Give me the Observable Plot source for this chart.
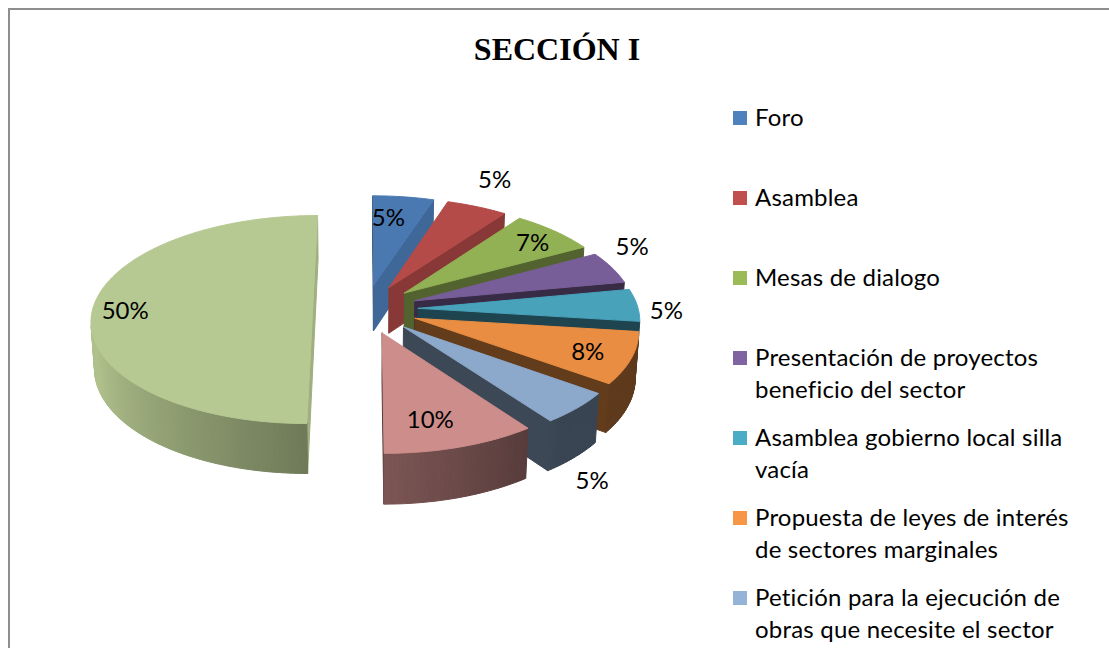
<!DOCTYPE html>
<html><head><meta charset="utf-8">
<script src="https://cdn.jsdelivr.net/npm/d3@7"></script>
<script src="https://cdn.jsdelivr.net/npm/@observablehq/plot@0.6"></script>
<style>
html,body{margin:0;padding:0;background:#fff;width:1109px;height:648px;overflow:hidden;}
#frame{position:absolute;left:8px;top:8px;width:1200px;height:700px;border-top:2px solid #8e8e8e;border-left:2px solid #8e8e8e;}
#chart{position:absolute;left:0;top:0;}
#title{position:absolute;left:0;width:1114px;top:33px;text-align:center;font:bold 32px "Liberation Serif","Times New Roman",serif;line-height:32px;color:#000;}
.lg-sw{position:absolute;width:14px;height:14px;}
.lg-tx{position:absolute;width:328px;font:24px Lato,sans-serif;letter-spacing:0.2px;line-height:32px;color:#000;}
</style></head><body>
<div id="frame"></div><div id="chart"></div><div id="title"></div><div id="legend"></div>
<script>
// ---- data ----
const title = "SECCIÓN I";
const categories = [
  "Foro",
  "Asamblea",
  "Mesas de dialogo",
  "Presentación de proyectos beneficio del sector",
  "Asamblea gobierno local silla vacía",
  "Propuesta de leyes de interés de sectores marginales",
  "Petición para la ejecución de obras que necesite el sector",
  "Otros",
  "Ninguna"
];
const values = [5, 5, 7, 5, 5, 8, 5, 10, 50];
const colors = ["#4F81BD","#C0504D","#9BBB59","#8064A2","#4BACC6","#F79646","#95B3D7","#D99694","#C3D69B"];

// ---- layout / style ----
const W = 1109, H = 648;
const view = {elevation: 27.9, distance: 8.8, explode: 0.24, thickness: 0.242, scale: 220, cx: 365, cy: 308.6};
const labelPlace = [[0.73,-3],[1.34,-2.2],[0.82,1.8],[1.2,-7.8],[1.125,3.4],[0.81,1.3],[1.45,15.6],[0.77,3.6],[0.85,-1.5]];
const legendLayout = {left: 733, top: 118, step: 80, textLeft: 755};

document.getElementById("title").textContent = title;

const el = view.elevation * Math.PI / 180, s = Math.sin(el), c = Math.cos(el);
const D = view.distance, h = view.thickness;
function proj(X, Y, Z) {
  const depth = D + Y * c - Z * s;
  return {u: X * D / depth, v: (Y * s + Z * c) * D / depth};
}
const cam = {x: 0, y: -D * c};
const arcs = d3.pie().sort(null).value(d => d)(values);
const slices = arcs.map((p, i) => {
  const mid = (p.startAngle + p.endAngle) / 2;
  return {i, a0: p.startAngle, a1: p.endAngle, mid,
    ox: view.explode * Math.sin(mid), oy: view.explode * Math.cos(mid)};
});
const order = slices.slice().sort((A, B) =>
  (B.oy + 0.6 * Math.cos(B.mid)) - (A.oy + 0.6 * Math.cos(A.mid)));

const pts = []; let fid = 0;
function addPoly(poly, color) {
  const id = fid++;
  poly.forEach(q => pts.push({u: q.u, v: q.v, face: id, color}));
  pts.push({u: poly[0].u, v: poly[0].v, face: id, color});
}
const shade = (col, b) => { const r = d3.rgb(col); return d3.rgb(r.r * b, r.g * b, r.b * b).formatHex(); };
const visible = (px, py, nx, ny) => (cam.x - px) * nx + (cam.y - py) * ny > 0;
const deg = r => ((r * 180 / Math.PI) % 360 + 360) % 360;
const outerB = t => t < 140 ? 0.38 : 0.38 + 0.52 * Math.min(1, (t - 140) / 110);
const radialB = phi => 0.4 + 0.42 * Math.pow(Math.max(0, Math.cos((phi - 95) * Math.PI / 180)), 2);

for (const S of order) {
  const base = colors[S.i];
  for (const [ang, sign] of [[S.a0, -1], [S.a1, 1]]) {
    const nx = sign > 0 ? Math.cos(ang) : -Math.cos(ang);
    const ny = sign > 0 ? -Math.sin(ang) : Math.sin(ang);
    const rx = S.ox + Math.sin(ang), ry = S.oy + Math.cos(ang);
    if (visible(S.ox, S.oy, nx, ny)) {
      const phi = deg(Math.atan2(nx, ny));
      addPoly([proj(S.ox, S.oy, 0), proj(rx, ry, 0), proj(rx, ry, -h), proj(S.ox, S.oy, -h)], shade(base, radialB(phi)));
    }
  }
  const n = Math.max(2, Math.ceil((S.a1 - S.a0) / (Math.PI / 180)));
  const P = (t, z) => proj(S.ox + Math.sin(t), S.oy + Math.cos(t), z);
  for (let j = 0; j < n; j++) {
    const t0 = S.a0 + (S.a1 - S.a0) * j / n, t1 = S.a0 + (S.a1 - S.a0) * (j + 1) / n, tm = (t0 + t1) / 2;
    if (!visible(S.ox + Math.sin(tm), S.oy + Math.cos(tm), Math.sin(tm), Math.cos(tm))) continue;
    addPoly([P(t0, 0), P(t1, 0), P(t1, -h), P(t0, -h)], shade(base, outerB(deg(tm))));
  }
  const top = [proj(S.ox, S.oy, 0)];
  for (let j = 0; j <= n; j++) top.push(P(S.a0 + (S.a1 - S.a0) * j / n, 0));
  addPoly(top, shade(base, 0.94));
}

const labelData = slices.map(S => {
  const [r, dd] = labelPlace[S.i];
  const t = S.mid + dd * Math.PI / 180;
  const q = proj(S.ox + r * Math.sin(t), S.oy + r * Math.cos(t), 0);
  return {u: q.u, v: q.v, label: values[S.i] + "%"};
});

const k = view.scale;
const chart = Plot.plot({
  width: W, height: H, margin: 0,
  x: {domain: [-view.cx / k, (W - view.cx) / k], range: [0, W], axis: null},
  y: {domain: [(view.cy - H) / k, view.cy / k], range: [H, 0], axis: null},
  color: {type: "identity"},
  style: {background: "transparent", overflow: "visible"},
  marks: [
    Plot.line(pts, {x: "u", y: "v", z: "face", fill: "color", stroke: "color", strokeWidth: 1, strokeLinejoin: "round"}),
    Plot.text(labelData, {x: "u", y: "v", text: "label", fontSize: 24, fontFamily: "Lato, sans-serif", fill: "#000"})
  ]
});
document.getElementById("chart").append(chart);

const leg = document.getElementById("legend");
categories.forEach((name, i) => {
  const cy = legendLayout.top + legendLayout.step * i;
  const sw = document.createElement("div");
  sw.className = "lg-sw";
  sw.style.left = legendLayout.left + "px";
  sw.style.top = (cy - 7) + "px";
  sw.style.background = colors[i];
  const tx = document.createElement("div");
  tx.className = "lg-tx";
  tx.style.left = legendLayout.textLeft + "px";
  tx.style.top = (cy - 17) + "px";
  tx.textContent = name;
  leg.append(sw, tx);
});
</script></body></html>
